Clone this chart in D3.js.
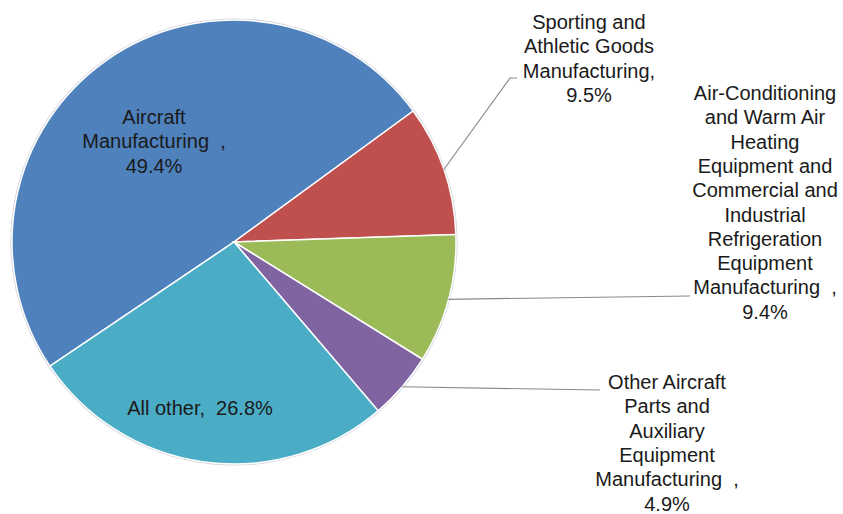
<!DOCTYPE html>
<html>
<head>
<meta charset="utf-8">
<script src="https://cdn.jsdelivr.net/npm/d3@7"></script>
<style>
  body { margin: 0; background: #fff; }
  text { font-family: "Liberation Sans", Arial, sans-serif; fill: #1a1a1a; }
</style>
</head>
<body>
<svg id="chart"></svg>
<script>
// data
const categories = [
    "Aircraft Manufacturing",
    "Sporting and Athletic Goods Manufacturing",
    "Air-Conditioning and Warm Air Heating Equipment and Commercial and Industrial Refrigeration Equipment Manufacturing",
    "Other Aircraft Parts and Auxiliary Equipment Manufacturing",
    "All other"
];
const shares = [49.4, 9.5, 9.4, 4.9, 26.8];
const labelLines = [
    ["Aircraft", "Manufacturing  ,", "49.4%"],
    ["Sporting and", "Athletic Goods", "Manufacturing,", "9.5%"],
    ["Air-Conditioning", "and Warm Air", "Heating", "Equipment and", "Commercial and", "Industrial", "Refrigeration", "Equipment", "Manufacturing  ,", "9.4%"],
    ["Other Aircraft", "Parts and", "Auxiliary", "Equipment", "Manufacturing  ,", "4.9%"],
    ["All other,  26.8%"]
];
const colors = ["#4f81bd", "#c0504d", "#9bbb59", "#8064a2", "#4bacc6"];

// layout of the labels (center x, first baseline, leader end points)
const labelLayout = [
    { x: 154, y: 124, leader: null },
    { x: 589, y: 29, leader: [[510, 78], [517, 78]] },
    { x: 765, y: 100, leader: [[690, 296]] },
    { x: 667, y: 389, leader: [[600, 390]] },
    { x: 200, y: 415, leader: null }
];

const width = 843, height = 514;
const cx = 234, cy = 242, radius = 222;
const lineHeight = 24.3;

const svg = d3.select("#chart")
    .attr("width", width)
    .attr("height", height);

const data = categories.map((c, i) => ({ name: c, value: shares[i], lines: labelLines[i] }));

const start = -124 * Math.PI / 180;
const pie = d3.pie()
    .value(d => d.value)
    .sort(null)
    .startAngle(start)
    .endAngle(start + 2 * Math.PI);

const arc = d3.arc().innerRadius(0).outerRadius(radius);
const arcs = pie(data);

const g = svg.append("g").attr("transform", `translate(${cx}, ${cy})`);

// soft outline round the pie
g.append("circle")
    .attr("r", radius + 0.8)
    .attr("fill", "none")
    .attr("stroke", "#d0d4dc")
    .attr("stroke-width", 1.5);

g.selectAll("path.slice")
    .data(arcs)
    .join("path")
    .attr("class", "slice")
    .attr("d", arc)
    .attr("fill", (d, i) => colors[i])
    .attr("stroke", "#fff")
    .attr("stroke-width", 1.5);

// leader lines
arcs.forEach((d, i) => {
    const lay = labelLayout[i];
    if (!lay.leader) return;
    const mid = (d.startAngle + d.endAngle) / 2;
    const p0 = [cx + radius * Math.sin(mid), cy - radius * Math.cos(mid)];
    const pts = [p0].concat(lay.leader);
    svg.append("path")
        .attr("d", d3.line()(pts))
        .attr("fill", "none")
        .attr("stroke", "#8a8a8a")
        .attr("stroke-width", 1.2);
});

// labels
arcs.forEach((d, i) => {
    const lay = labelLayout[i];
    const t = svg.append("text")
        .attr("text-anchor", "middle")
        .attr("font-size", "20px")
        .attr("xml:space", "preserve")
        .style("white-space", "pre");
    d.data.lines.forEach((line, j) => {
        t.append("tspan")
            .attr("x", lay.x)
            .attr("y", lay.y + j * lineHeight)
            .text(line);
    });
});
</script>
</body>
</html>
